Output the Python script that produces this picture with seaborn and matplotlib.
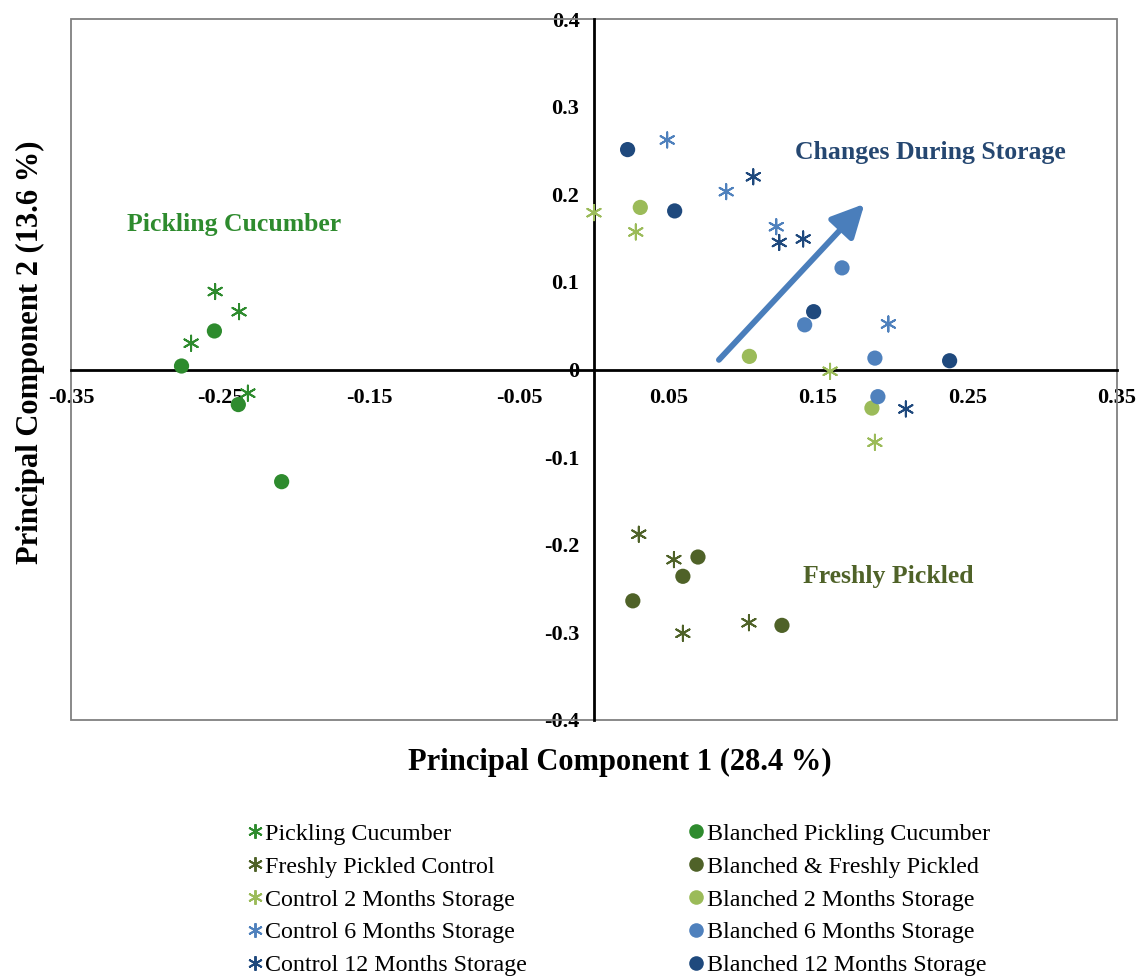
import matplotlib
matplotlib.use("Agg")
import matplotlib.pyplot as plt
import seaborn as sns
import pandas as pd
from matplotlib.lines import Line2D
from matplotlib.patches import Rectangle
from matplotlib.ticker import FixedLocator

sns.set_style("white")
plt.rcParams['font.family'] = ['Liberation Serif', 'DejaVu Serif']
plt.rcParams['text.color'] = 'black'
plt.rcParams['axes.labelcolor'] = 'black'
plt.rcParams['xtick.color'] = 'black'
plt.rcParams['ytick.color'] = 'black'

# ---------------- data ----------------
control_groups = ["Pickling Cucumber", "Freshly Pickled Control",
                  "Control 2 Months Storage", "Control 6 Months Storage",
                  "Control 12 Months Storage"]
blanched_groups = ["Blanched Pickling Cucumber", "Blanched & Freshly Pickled",
                   "Blanched 2 Months Storage", "Blanched 6 Months Storage",
                   "Blanched 12 Months Storage"]
group_colors = ["#2e8b2e", "#4f6228", "#9bbb59", "#4f81bd", "#1f497d"]

pickling_x = [-0.2535, -0.2375, -0.2696, -0.2316]
pickling_y = [0.089, 0.066, 0.030, -0.027]
bl_pickling_x = [-0.254, -0.276, -0.238, -0.209]
bl_pickling_y = [0.044, 0.004, -0.040, -0.128]

fresh_x = [0.030, 0.0535, 0.0595, 0.1037]
fresh_y = [-0.188, -0.217, -0.301, -0.289]
bl_fresh_x = [0.0696, 0.0595, 0.026, 0.1258]
bl_fresh_y = [-0.214, -0.236, -0.264, -0.292]

c2_x = [0.000, 0.028, 0.158, 0.188]
c2_y = [0.179, 0.157, -0.002, -0.083]
bl2_x = [0.031, 0.104, 0.186]
bl2_y = [0.185, 0.015, -0.044]

c6_x = [0.049, 0.0885, 0.122, 0.197]
c6_y = [0.262, 0.203, 0.163, 0.052]
bl6_x = [0.166, 0.141, 0.188, 0.190]
bl6_y = [0.116, 0.051, 0.013, -0.031]

c12_x = [0.1066, 0.124, 0.140, 0.2087]
c12_y = [0.220, 0.145, 0.149, -0.045]
bl12_x = [0.0225, 0.054, 0.147, 0.238]
bl12_y = [0.251, 0.181, 0.066, 0.010]

x_ticks = [-0.35, -0.25, -0.15, -0.05, 0.05, 0.15, 0.25, 0.35]
x_tick_labels = ["-0.35", "-0.25", "-0.15", "-0.05", "0.05", "0.15", "0.25", "0.35"]
y_ticks = [0.4, 0.3, 0.2, 0.1, 0.0, -0.1, -0.2, -0.3, -0.4]
y_tick_labels = ["0.4", "0.3", "0.2", "0.1", "0", "-0.1", "-0.2", "-0.3", "-0.4"]

arrow_start = (0.0836, 0.011)
arrow_end = (0.181, 0.189)

control_xs = [pickling_x, fresh_x, c2_x, c6_x, c12_x]
control_ys = [pickling_y, fresh_y, c2_y, c6_y, c12_y]
blanched_xs = [bl_pickling_x, bl_fresh_x, bl2_x, bl6_x, bl12_x]
blanched_ys = [bl_pickling_y, bl_fresh_y, bl2_y, bl6_y, bl12_y]

rows = []
for g, xs, ys in zip(control_groups, control_xs, control_ys):
    for x, y in zip(xs, ys):
        rows.append({"PC1": x, "PC2": y, "group": g, "kind": "control"})
for g, xs, ys in zip(blanched_groups, blanched_xs, blanched_ys):
    for x, y in zip(xs, ys):
        rows.append({"PC1": x, "PC2": y, "group": g, "kind": "blanched"})
df = pd.DataFrame(rows)

pal_control = dict(zip(control_groups, group_colors))
pal_blanched = dict(zip(blanched_groups, group_colors))

# ---------------- figure ----------------
fig = plt.figure(figsize=(11.37, 9.76), dpi=100)
ax = fig.add_axes([0.0624, 0.2623, 0.92, 0.7182])

star = (6, 2, 0)
sns.scatterplot(data=df[df.kind == "control"], x="PC1", y="PC2", hue="group",
                palette=pal_control, hue_order=control_groups, marker=star,
                s=120, linewidth=1.4, legend=False, ax=ax, zorder=3)
sns.scatterplot(data=df[df.kind == "blanched"], x="PC1", y="PC2", hue="group",
                palette=pal_blanched, hue_order=blanched_groups, marker="o",
                s=120, linewidth=0, legend=False, ax=ax, zorder=3)

ax.set_xlim(-0.35, 0.35)
ax.set_ylim(-0.4, 0.4)

# axes through the origin
for side in ["top", "right"]:
    ax.spines[side].set_visible(False)
ax.spines["left"].set_position(("data", 0))
ax.spines["bottom"].set_position(("data", 0))
for side in ["left", "bottom"]:
    ax.spines[side].set_color("black")
    ax.spines[side].set_linewidth(2.0)
    ax.spines[side].set_zorder(2)

ax.add_patch(Rectangle((0, 0), 1, 1, transform=ax.transAxes, fill=False,
                       edgecolor="#808080", linewidth=1.3, clip_on=False, zorder=1))

ax.xaxis.set_major_locator(FixedLocator(x_ticks))
ax.set_xticklabels(x_tick_labels, fontsize=16, fontweight="bold", color="black")
ax.yaxis.set_major_locator(FixedLocator(y_ticks))
ax.set_yticklabels(y_tick_labels, fontsize=16, fontweight="bold", color="black")
ax.tick_params(axis="both", direction="inout", length=11, width=1.6,
               color="black", labelcolor="black")
ax.tick_params(axis="x", pad=8)
ax.tick_params(axis="y", pad=5)

ax.set_xlabel("Principal Component 1 (28.4 %)", fontsize=22, fontweight="bold",
              va="center", color="black")
ax.set_ylabel("Principal Component 2 (13.6 %)", fontsize=22, fontweight="bold",
              va="center", color="black")
ax.xaxis.set_label_coords(0.525, -0.061)
ax.yaxis.set_label_coords(-0.039, 0.525)

# annotations
ax.text(-0.2408, 0.165, "Pickling Cucumber", color="#2e8b2e", fontsize=18.5,
        fontweight="bold", ha="center", va="center")
ax.text(0.225, 0.248, "Changes During Storage", color="#254771", fontsize=18.5,
        fontweight="bold", ha="center", va="center")
ax.text(0.197, -0.236, "Freshly Pickled", color="#4f6228", fontsize=18.5,
        fontweight="bold", ha="center", va="center")

ax.annotate("", xy=arrow_end, xytext=arrow_start,
            arrowprops=dict(arrowstyle="-|>,head_length=0.9,head_width=0.45",
                            color="#4a7ebb", lw=4.2, mutation_scale=22,
                            shrinkA=0, shrinkB=0), zorder=2)

# legend
handles = []
for g, c in zip(control_groups, group_colors):
    handles.append(Line2D([], [], linestyle="none", marker=star, markersize=10.5,
                          markeredgewidth=1.4, color=c, label=g))
for g, c in zip(blanched_groups, group_colors):
    handles.append(Line2D([], [], linestyle="none", marker="o", markersize=10.5,
                          markeredgewidth=0, color=c, label=g))
fig.legend(handles=handles, ncol=2, loc="upper left",
           bbox_to_anchor=(0.217, 0.1568), frameon=False, fontsize=17.3,
           handlelength=0.65, handletextpad=0.12, columnspacing=6.7,
           labelspacing=0.46, borderaxespad=0, borderpad=0)

fig.savefig("out.png", dpi=100)
